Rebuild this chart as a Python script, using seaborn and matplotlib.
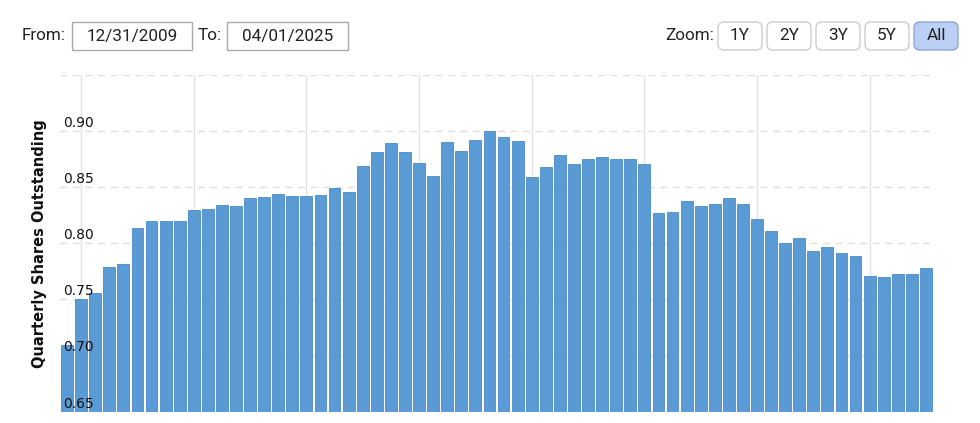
import pandas as pd
import numpy as np
import matplotlib
matplotlib.use("Agg")
import matplotlib.pyplot as plt
from matplotlib.patches import FancyBboxPatch, Rectangle
import seaborn as sns

sns.set_theme(style="white")
plt.rcParams['font.family'] = ['DejaVu Sans']

# quarterly shares outstanding, Q4 2009 .. Q1 2025
quarters = [str(p) for p in pd.period_range("2009Q4", "2025Q1", freq="Q")]
shares = [
    0.709, 0.750, 0.756, 0.779, 0.782, 0.814, 0.820, 0.820, 0.820, 0.830,
    0.831, 0.834, 0.833, 0.840, 0.841, 0.844, 0.842, 0.842, 0.843, 0.849,
    0.846, 0.869, 0.881, 0.889, 0.881, 0.872, 0.860, 0.890, 0.882, 0.892,
    0.900, 0.895, 0.891, 0.859, 0.868, 0.879, 0.871, 0.875, 0.877, 0.875,
    0.875, 0.871, 0.827, 0.828, 0.838, 0.833, 0.835, 0.840, 0.835, 0.822,
    0.811, 0.800, 0.805, 0.793, 0.797, 0.791, 0.789, 0.771, 0.770, 0.773,
    0.773, 0.778,
]
y_ticks = [0.65, 0.70, 0.75, 0.80, 0.85, 0.90, 0.95]
from_date = "12/31/2009"
to_date = "04/01/2025"
zoom_buttons = ["1Y", "2Y", "3Y", "5Y", "All"]

df = pd.DataFrame({"quarter": quarters, "shares": shares})

W, H = 980, 423
fig = plt.figure(figsize=(W / 100, H / 100), dpi=100)
ax = fig.add_axes([60 / W, 1 - 411.7 / H, 873 / W, (411.7 - 75) / H])

sns.barplot(data=df, x="quarter", y="shares", order=quarters, color="#5b9bd5",
            saturation=1, width=0.84, edgecolor="#4a8ac9", linewidth=0.6, ax=ax)
for p in ax.patches:
    p.set_zorder(2)

ax.set_xlim(-0.5, len(quarters) - 0.5)
ax.set_ylim(y_ticks[0], y_ticks[-1])
ax.set_xticks(np.arange(1, len(quarters), 8))
ax.set_xticklabels([])
ax.set_yticks(y_ticks)
ax.set_yticklabels([])
ax.tick_params(length=0)
ax.xaxis.grid(True, color="#e3e3e3", linewidth=1, zorder=0)
ax.yaxis.grid(True, color="#dedede", linewidth=1, linestyle=(0, (5, 4)), zorder=0)
ax.set_axisbelow(True)
for s in ax.spines.values():
    s.set_visible(False)
ax.set_xlabel("")
ax.set_ylabel("Quarterly Shares Outstanding", fontsize=10.5, fontweight="bold",
              color="#111111")
ax.yaxis.set_label_coords(-0.015, 0.5)

# y labels sit inside the plot, over the bars
for v in y_ticks[:-1]:
    ax.text(0.004, v + 0.001, f"{v:.2f}", transform=ax.get_yaxis_transform(),
            ha="left", va="bottom", fontsize=10, color="#111111", zorder=5)


def px(x, y):
    return x / W, 1 - y / H


ui_font = dict(family=["Roboto", "DejaVu Sans"], fontsize=12.3, color="#222222")

fig.text(*px(22, 36), "From:", ha="left", va="center", **ui_font)
fig.text(*px(198, 36), "To:", ha="left", va="center", **ui_font)
for (x0, x1), label in [((71.5, 192), from_date), ((227, 348), to_date)]:
    fig.add_artist(Rectangle(px(x0, 50), (x1 - x0) / W, 28 / H, transform=fig.transFigure,
                             facecolor="white", edgecolor="#aaaaaa", linewidth=1))
    fig.text(*px((x0 + x1) / 2, 36), label, ha="center", va="center", **ui_font)

fig.text(*px(665, 36), "Zoom:", ha="left", va="center", **ui_font)
btn_x = [718, 767, 816, 865, 914]
for x0, label in zip(btn_x, zoom_buttons):
    active = label == "All"
    fig.add_artist(FancyBboxPatch(px(x0, 50), 44 / W, 28 / H,
                                  boxstyle="round,pad=0,rounding_size=0.006",
                                  transform=fig.transFigure, mutation_aspect=W / H,
                                  facecolor="#bccff5" if active else "white",
                                  edgecolor="#8ea6d6" if active else "#cccccc", linewidth=1))
    fig.text(*px(x0 + 22, 36), label, ha="center", va="center", **ui_font)

fig.savefig("out.png", dpi=100)
